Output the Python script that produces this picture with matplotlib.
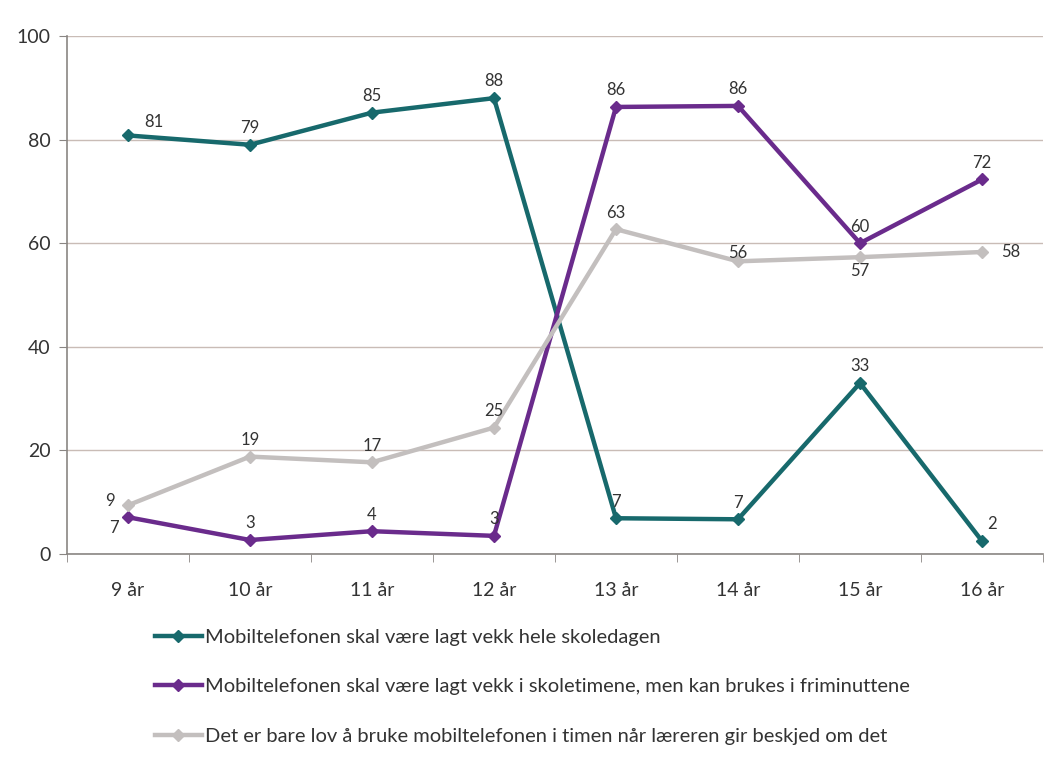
import matplotlib.pyplot as plt

plt.rcParams['font.family'] = ['Lato', 'DejaVu Sans']

ages = ['9 år', '10 år', '11 år', '12 år', '13 år', '14 år', '15 år', '16 år']
hele_dagen = [81, 79, 85, 88, 7, 7, 33, 2]
friminutt = [7, 3, 4, 3, 86, 86, 60, 72]
laerer = [9, 19, 17, 25, 63, 56, 57, 58]

labels = [
    'Mobiltelefonen skal være lagt vekk hele skoledagen',
    'Mobiltelefonen skal være lagt vekk i skoletimene, men kan brukes i friminuttene',
    'Det er bare lov å bruke mobiltelefonen i timen når læreren gir beskjed om det',
]
colors = ['#17696c', '#6a2b8c', '#c3bfbe']

# precise-ish values (for marker positions)
hele_pos = [80.8, 79.0, 85.2, 88.0, 6.9, 6.7, 33.0, 2.5]
frim_pos = [7.1, 2.7, 4.4, 3.5, 86.3, 86.5, 60.0, 72.3]
laer_pos = [9.4, 18.8, 17.7, 24.4, 62.7, 56.5, 57.3, 58.3]

fig = plt.figure(figsize=(10.56, 7.69), dpi=100)
ax = fig.add_axes([0.0634, 0.2796, 0.9243, 0.6736])

x = list(range(len(ages)))
series = [(hele_pos, hele_dagen), (frim_pos, friminutt), (laer_pos, laerer)]
for (pos, vals), lab, c in zip(series, labels, colors):
    ax.plot(x, pos, color=c, lw=3.2, marker='D', ms=6, label=lab, zorder=3)

# label offsets (points)
off_hele = [(19, 10), (0, 12), (0, 12), (0, 12), (0, 12), (0, 12), (0, 12), (7, 12)]
off_frim = [(-10, -8), (0, 12), (0, 12), (0, 12), (0, 12), (0, 12), (0, 12), (0, 12)]
off_laer = [(-13, 3), (0, 12), (0, 12), (0, 12), (0, 12), (0, 6), (0, -10), (21, 0)]
for (pos, vals), offs in zip(series, [off_hele, off_frim, off_laer]):
    for xi, p, v, o in zip(x, pos, vals, offs):
        ax.annotate(str(v), (xi, p), xytext=o, textcoords='offset points',
                    ha='center', va='center', fontsize=12, color='#333333')

ax.set_xlim(-0.5, len(ages) - 0.5)
ax.set_ylim(0, 100)
ax.set_yticks([0, 20, 40, 60, 80, 100])
ax.set_xticks(x)
ax.set_xticklabels(ages)
ax.set_xticks([i - 0.5 for i in range(len(ages) + 1)], minor=True)
ax.tick_params(axis='x', which='major', length=0, pad=20, labelsize=14, labelcolor='#333333')
ax.tick_params(axis='x', which='minor', length=6, color='#8a8683')
ax.tick_params(axis='y', length=6, color='#8a8683', labelsize=14, labelcolor='#333333', pad=6)
ax.grid(axis='y', color='#c9bcb6', lw=1)
ax.set_axisbelow(True)
for s in ['top', 'right']:
    ax.spines[s].set_visible(False)
for s in ['left', 'bottom']:
    ax.spines[s].set_color('#8a8683')
    ax.spines[s].set_linewidth(1.2)

fig.legend(loc='upper left', bbox_to_anchor=(0.147, 1 - 629 / 769), frameon=False,
           fontsize=14.5, handlelength=2.3, handletextpad=0.15, labelspacing=1.6,
           labelcolor='#333333', borderaxespad=0, borderpad=0)

fig.savefig('out.png', dpi=100, facecolor='white')
